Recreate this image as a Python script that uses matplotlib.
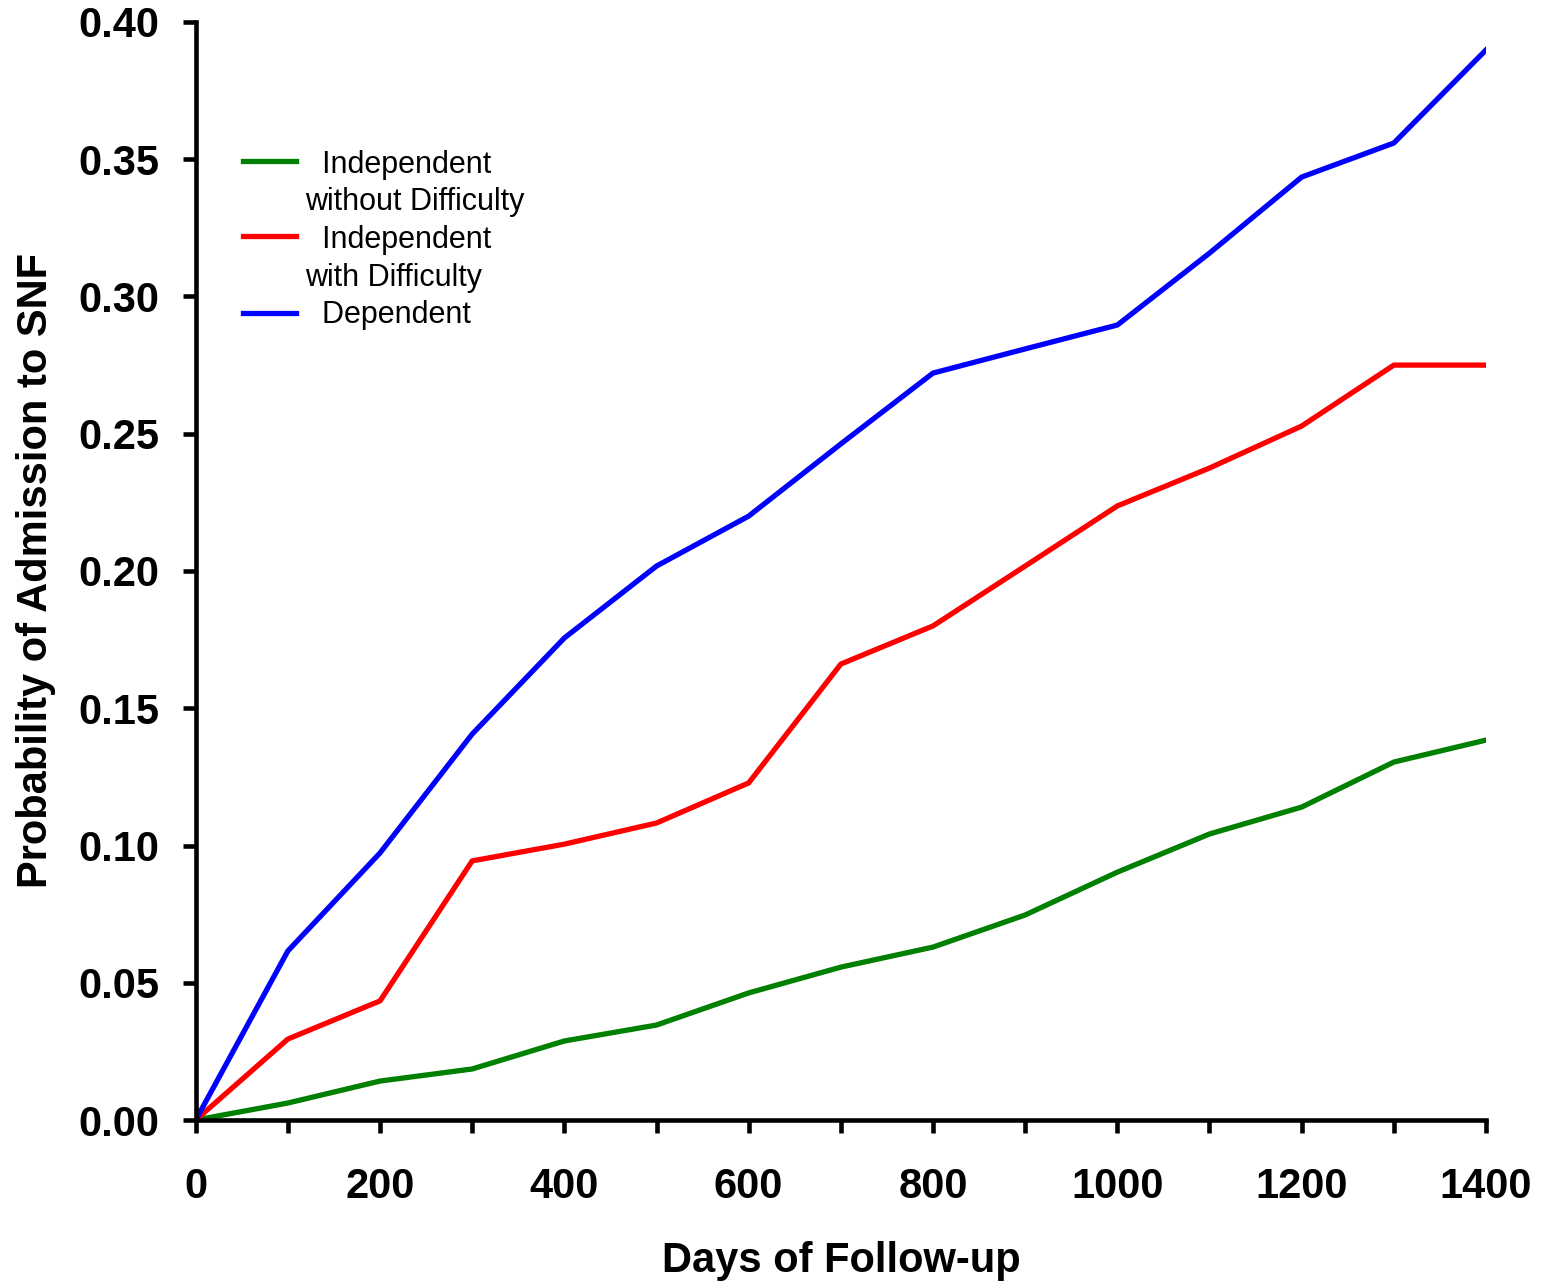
import matplotlib
matplotlib.use("Agg")
import matplotlib.pyplot as plt
from matplotlib.ticker import MultipleLocator, FormatStrFormatter

plt.rcParams['font.family'] = ['Liberation Sans', 'DejaVu Sans']

days = [0, 100, 200, 300, 400, 500, 600, 700, 800, 900, 1000, 1100, 1200, 1300, 1400]
indep_no_diff = [0, 0.0062, 0.0142, 0.0186, 0.0288, 0.0346, 0.0463, 0.0557, 0.0630,
                 0.0747, 0.0903, 0.1042, 0.1140, 0.1304, 0.1384]
indep_diff = [0, 0.0295, 0.0434, 0.0944, 0.1005, 0.1082, 0.1228, 0.1661, 0.1800,
              0.2018, 0.2237, 0.2375, 0.2528, 0.2750, 0.2750]
dependent = [0, 0.0616, 0.0973, 0.1406, 0.1756, 0.2018, 0.2200, 0.2463, 0.2721,
             0.2809, 0.2896, 0.3158, 0.3435, 0.3559, 0.3898]
labels = ["  Independent\nwithout Difficulty", "  Independent\nwith Difficulty", "  Dependent"]
colors = ["#008000", "#ff0000", "#0000ff"]

fig = plt.figure(figsize=(15.41, 12.84), dpi=100)
ax = fig.add_axes([0.127, 0.1277, 0.8373, 0.8552])

for series, lab, col in zip([indep_no_diff, indep_diff, dependent], labels, colors):
    ax.plot(days, series, color=col, lw=3.8, label=lab)

ax.set_xlim(0, 1400)
ax.set_ylim(0, 0.40)
ax.xaxis.set_major_locator(MultipleLocator(200))
ax.xaxis.set_minor_locator(MultipleLocator(100))
ax.yaxis.set_major_locator(MultipleLocator(0.05))
ax.yaxis.set_major_formatter(FormatStrFormatter('%.2f'))

for s in ['top', 'right']:
    ax.spines[s].set_visible(False)
for s in ['left', 'bottom']:
    ax.spines[s].set_linewidth(3.3)
ax.tick_params(which='both', direction='out', length=9.5, width=3.3)
ax.tick_params(axis='x', pad=24)
ax.tick_params(axis='y', pad=17)
for t in ax.get_xticklabels() + ax.get_yticklabels():
    t.set_fontsize(30)
    t.set_fontweight('bold')

ax.set_xlabel("Days of Follow-up", fontsize=30, fontweight='bold', labelpad=25)
ax.set_ylabel("Probability of Admission to SNF", fontsize=30, fontweight='bold', labelpad=16)

leg = ax.legend(loc='upper left', bbox_to_anchor=(0.0364, 0.8835), frameon=False,
                borderpad=0, borderaxespad=0, fontsize=22, handlelength=1.75,
                handletextpad=0.3, labelspacing=0.26)
for t in leg.get_texts():
    t.set_multialignment('left')
    t.set_linespacing(1.32)
# put the handle level with the first text line of two-line entries
for line, lab in zip(leg.get_lines(), labels):
    if "\n" in lab:
        y = line.get_ydata()
        line.set_ydata([v + 17 for v in y])

fig.savefig("out.png", dpi=100)
